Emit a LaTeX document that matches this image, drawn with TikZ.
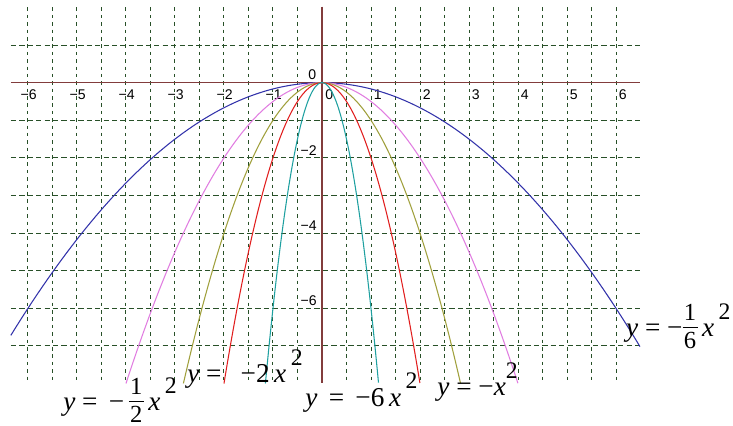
\documentclass[tikz,border=0pt]{standalone}
\usepackage{fontspec}
\setmainfont{Liberation Serif}
\newfontfamily\tickfont{Liberation Sans}
\definecolor{gridgreen}{RGB}{40,80,40}
\definecolor{axisbrown}{RGB}{130,60,60}
\definecolor{cblue}{RGB}{50,50,170}
\definecolor{cviolet}{RGB}{225,125,225}
\definecolor{colive}{RGB}{160,160,60}
\definecolor{cred}{RGB}{225,30,30}
\definecolor{cteal}{RGB}{30,160,160}
% raised square and stacked fraction, as the picture prints them
\newcommand{\sqr}{\raisebox{10pt}{\fontsize{13.5}{13.5}\selectfont 2}}
\newcommand{\frc}[2]{{\fontsize{14}{14}\selectfont
  \setbox0\hbox{#1}\dimen0=\wd0 \advance\dimen0 by 1.5pt
  \makebox[\dimen0]{\raisebox{9.5pt}{#1}}\kern-\dimen0
  \rule[5pt]{\dimen0}{0.55pt}\kern-\dimen0
  \makebox[\dimen0]{\raisebox{-6.3pt}{#2}}}}
\tikzset{
  gridln/.style={gridgreen,line width=0.55pt},
  vgrid/.style={gridln,dash pattern=on 2pt off 2.2pt},
  hgrid/.style={gridln,dash pattern=on 3pt off 1.8pt},
  axisln/.style={axisbrown,line width=0.8pt},
  curve/.style={line width=0.6pt,samples=120,smooth},
  xtick/.style={anchor=north west,inner sep=0pt,font=\tickfont\fontsize{8}{8}\selectfont},
  ytick/.style={anchor=south east,inner sep=0pt,font=\tickfont\fontsize{8}{8}\selectfont},
  eqlbl/.style={anchor=base west,inner sep=0pt,font=\fontsize{15.5}{18}\selectfont}
}
\begin{document}
\begin{tikzpicture}[x=0.98cm,y=0.752cm]
  \useasboundingbox (-6.571,2.199) rectangle (8.388,-9.130);
  \fill[white] (-6.571,2.199) rectangle (8.388,-9.130);
  % Grid
  \foreach \u in {-6,-5.5,...,6.1}
    \draw[vgrid] (\u,2.0) -- (\u,-7.98);
  \foreach \v in {1,-1,-2,...,-7}
    \draw[hgrid] (-6.35,\v) -- (6.49,\v);

  % Axes
  \draw[axisln] (-6.35,0) -- (6.49,0);
  \draw[axisln] (0,2.02) -- (0,-7.98);

  % Tick labels
  \node[xtick] (x0) at (0.06,-0.18) {0};
  \foreach \i in {1,...,6} {
    \node[xtick] (xp\i) at (\i+0.05,-0.18) {\i};
    \node[xtick] (xm\i) at (-\i+0.01,-0.18) {\llap{−}\i};
  }
  \node[ytick] (y0) at (-0.11,0.07) {0};
  \foreach \j in {2,4,6}
    \node[ytick] (ym\j) at (-0.10,-\j+0.05) {−\j};

  % Parabolas
  \draw[curve,cblue] plot[domain=-6.35:6.49] (\x,{-\x*\x/6});
  \draw[curve,cviolet] plot[domain=-4:4] (\x,{-\x*\x/2});
  \draw[curve,colive] plot[domain=-2.828:2.828] (\x,{-\x*\x});
  \draw[curve,cred] plot[domain=-2:2] (\x,{-2*\x*\x});
  \draw[curve,cteal] plot[domain=-1.1547:1.1547] (\x,{-6*\x*\x});

  % Equations
  \node[eqlbl] (eq6) at (6.2,-6.763) {\textit{y} = −\frc{1}{6}\,\textit{x}\,\sqr};
  \node[eqlbl] (eqh) at (-5.286,-8.73) {\textit{y} = \,−\,\frc{1}{2}\,\textit{x}\,\sqr};
  \node[eqlbl] (eqt) at (-2.755,-7.987) {\textit{y} = \hspace{0.45em}−2\,\textit{x}\,\sqr};
  \node[eqlbl] (eqs) at (-0.347,-8.599) {\textit{y} \,=\, −6\,\textit{x}\,\sqr};
  \node[eqlbl] (eqo) at (2.347,-8.332) {\textit{y} = −\textit{x}\sqr};
\end{tikzpicture}
\end{document}
